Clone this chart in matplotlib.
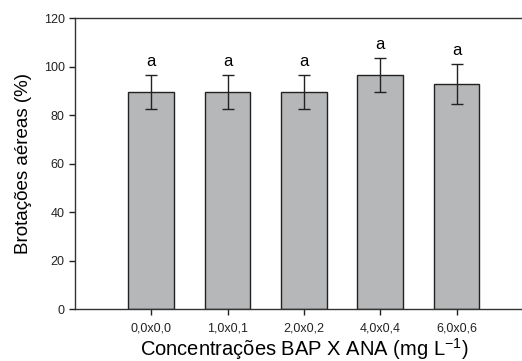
import matplotlib
matplotlib.use("Agg")
import matplotlib.pyplot as plt

plt.rcParams['font.family'] = ['Liberation Sans', 'DejaVu Sans']
plt.rcParams['mathtext.default'] = 'regular'

labels = ["0,0x0,0", "1,0x0,1", "2,0x0,2", "4,0x0,4", "6,0x0,6"]
means = [89.4, 89.4, 89.4, 96.4, 92.8]
errs = [7.0, 7.0, 7.0, 7.0, 8.1]
letters = ["a", "a", "a", "a", "a"]

fig = plt.figure(figsize=(5.22, 3.61), dpi=100)
ax = fig.add_axes([0.1437, 0.144, 0.877, 0.806])

x = list(range(len(labels)))
ax.bar(x, means, width=0.6, color="#b5b7b8", edgecolor="#222222", linewidth=1.0)
ax.errorbar(x, means, yerr=errs, fmt="none", ecolor="#222222", elinewidth=1.0,
            capsize=4, capthick=1.0)

for xi, m, e, l in zip(x, means, errs, letters):
	ax.text(xi, m + e + 2.5, l, ha="center", va="bottom", fontsize=12)

ax.set_xlim(-1, 5)
ax.set_ylim(0, 120)
ax.set_yticks(range(0, 121, 20))
ax.set_xticks(x)
ax.set_xticklabels(labels)
ax.tick_params(direction="out", length=4, width=1, labelsize=9, colors="#222222")
ax.tick_params(axis="x", pad=6)

for s in ax.spines.values():
	s.set_linewidth(1.0)
	s.set_color("#333333")

ax.set_ylabel("Brotações aéreas (%)", fontsize=13.5, labelpad=8)
ax.set_xlabel("Concentrações BAP X ANA (mg L$^{-1}$)", fontsize=14.5, labelpad=1)

fig.savefig("out.png", dpi=100)
